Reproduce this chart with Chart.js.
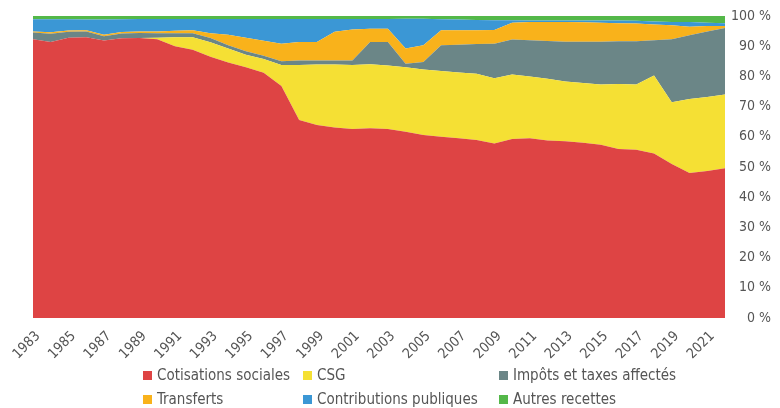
<!DOCTYPE html>
<html lang="fr">
<head>
<meta charset="utf-8">
<script src="https://cdn.jsdelivr.net/npm/chart.js@4.4.1/dist/chart.umd.min.js"></script>
<style>
  html, body { margin: 0; padding: 0; background: #fff; }
  #wrap { position: relative; width: 780px; height: 408px; overflow: hidden; }
  #legend { position: absolute; left: 0; top: 0; width: 780px; height: 408px; pointer-events: none;
            font-family: "Liberation Sans Narrow", "DejaVu Sans Condensed", "Roboto", sans-serif;
            font-size: 15px; color: #555; }
  .item { position: absolute; display: flex; align-items: center; white-space: nowrap; transform: translateY(-50%); }
  .sw { width: 9px; height: 9px; margin-right: 5px; flex: none; }
</style>
</head>
<body>
<div id="wrap">
  <canvas id="chart" width="780" height="408"></canvas>
  <div id="legend"></div>
</div>
<script>
const years = [1983, 1984, 1985, 1986, 1987, 1988, 1989, 1990, 1991, 1992,
               1993, 1994, 1995, 1996, 1997, 1998, 1999, 2000, 2001, 2002,
               2003, 2004, 2005, 2006, 2007, 2008, 2009, 2010, 2011, 2012,
               2013, 2014, 2015, 2016, 2017, 2018, 2019, 2020, 2021, 2022];

const yTicks = [0, 10, 20, 30, 40, 50, 60, 70, 80, 90, 100];

// shares of total receipts, in %
const cotisations = [92.3, 91.4, 92.8, 93.0, 91.9, 92.6, 92.7, 92.3, 90.0, 88.8,
                     86.5, 84.6, 83.0, 81.2, 76.8, 65.6, 63.9, 63.1, 62.6, 62.8,
                     62.6, 61.7, 60.6, 60.0, 59.5, 58.9, 57.8, 59.3, 59.5, 58.8,
                     58.5, 58.0, 57.4, 56.0, 55.7, 54.5, 51.0, 48.0, 48.7, 49.6];
const csg = [0, 0, 0, 0, 0, 0, 0, 0.5, 3.0, 4.2,
             4.8, 4.6, 4.2, 4.6, 7.0, 18.2, 20.0, 20.8, 21.2, 21.2,
             21.0, 21.3, 21.7, 21.8, 21.8, 22.0, 21.6, 21.3, 20.5, 20.4,
             19.8, 19.8, 19.9, 21.5, 21.6, 25.8, 20.4, 24.5, 24.5, 24.4];
const impots = [2.2, 2.7, 2.0, 1.9, 1.4, 1.6, 1.7, 1.5, 1.3, 1.3,
                1.4, 1.1, 1.1, 1.0, 1.2, 1.5, 1.4, 1.4, 1.5, 7.4,
                7.8, 1.2, 2.5, 8.5, 9.2, 9.8, 11.4, 11.6, 12.0, 12.5,
                13.2, 13.7, 14.2, 14.1, 14.3, 11.7, 20.9, 21.1, 21.7, 22.0];
const transferts = [0.4, 0.5, 0.4, 0.4, 0.5, 0.5, 0.5, 0.6, 0.8, 1.0,
                    1.6, 3.5, 4.5, 5.0, 5.8, 6.1, 6.1, 9.5, 10.2, 4.4,
                    4.4, 5.0, 5.5, 5.0, 4.8, 4.6, 4.6, 5.6, 6.0, 6.3,
                    6.5, 6.4, 6.3, 6.0, 5.9, 5.2, 4.6, 2.8, 1.8, 0.7];
const contributions = [4.0, 4.3, 3.7, 3.5, 5.0, 4.2, 4.1, 4.1, 3.9, 3.7,
                       4.7, 5.2, 6.2, 7.2, 8.2, 7.6, 7.6, 4.2, 3.5, 3.2,
                       3.2, 9.9, 8.8, 3.6, 3.5, 3.4, 3.2, 0.8, 0.5, 0.5,
                       0.5, 0.6, 0.7, 0.9, 0.9, 1.0, 1.1, 1.6, 1.1, 0.9];
const autres = [1.1, 1.1, 1.1, 1.2, 1.2, 1.1, 1.0, 1.0, 1.0, 1.0,
                1.0, 1.0, 1.0, 1.0, 1.0, 1.0, 1.0, 1.0, 1.0, 1.0,
                1.0, 0.9, 0.9, 1.1, 1.2, 1.3, 1.4, 1.4, 1.5, 1.5,
                1.5, 1.5, 1.5, 1.5, 1.6, 1.8, 2.0, 2.0, 2.2, 2.4];

const seriesNames = ['Cotisations sociales', 'CSG', 'Impôts et taxes affectés',
                     'Transferts', 'Contributions publiques', 'Autres recettes'];
const seriesColors = ['#de4444', '#f5e034', '#6b8687', '#f9b21b', '#3b97d5', '#54b849'];
const seriesData = [cotisations, csg, impots, transferts, contributions, autres];

const FONT = '"Liberation Sans Narrow", "DejaVu Sans Condensed", "Roboto", sans-serif';
const TEXT = '#555';

const datasets = seriesData.map(function (vals, i) {
    return {
        label: seriesNames[i],
        data: vals,
        backgroundColor: seriesColors[i],
        borderColor: seriesColors[i],
        borderWidth: 0,
        pointRadius: 0,
        tension: 0,
        fill: i === 0 ? 'origin' : '-1'
    };
});

new Chart(document.getElementById('chart'), {
    type: 'line',
    data: { labels: years, datasets: datasets },
    options: {
        responsive: false,
        animation: false,
        layout: { padding: { left: 33, top: 16, right: 9, bottom: 0 } },
        plugins: { legend: { display: false }, tooltip: { enabled: false } },
        scales: {
            x: {
                offset: false,
                grid: { display: false },
                border: { display: false },
                afterFit: function (scale) { scale.height = 90; },
                ticks: {
                    autoSkip: false,
                    minRotation: 45,
                    maxRotation: 45,
                    labelOffset: 5,
                    padding: 2,
                    color: TEXT,
                    font: { family: FONT, size: 14 },
                    callback: function (v, i) { return (i % 2 === 0 && years[i] <= 2021) ? String(years[i]) : ''; }
                }
            },
            y: {
                position: 'right',
                stacked: true,
                min: 0,
                max: 100,
                grid: { display: false },
                border: { display: false },
                afterFit: function (scale) { scale.width = 46; },
                afterBuildTicks: function (scale) { scale.ticks = yTicks.map(v => ({ value: v })); },
                ticks: {
                    crossAlign: 'far',
                    color: TEXT,
                    font: { family: FONT, size: 14 },
                    callback: function (v) { return v + ' %'; }
                }
            }
        }
    }
});

// legend in three aligned columns, two rows
const legendCols = [143, 303, 499];
const legendRows = [375, 399];
const legend = document.getElementById('legend');
seriesNames.forEach(function (name, i) {
    const item = document.createElement('div');
    item.className = 'item';
    item.style.left = legendCols[i % 3] + 'px';
    item.style.top = legendRows[Math.floor(i / 3)] + 'px';
    item.innerHTML = '<span class="sw" style="background:' + seriesColors[i] + '"></span>' + name;
    legend.appendChild(item);
});
</script>
</body>
</html>
